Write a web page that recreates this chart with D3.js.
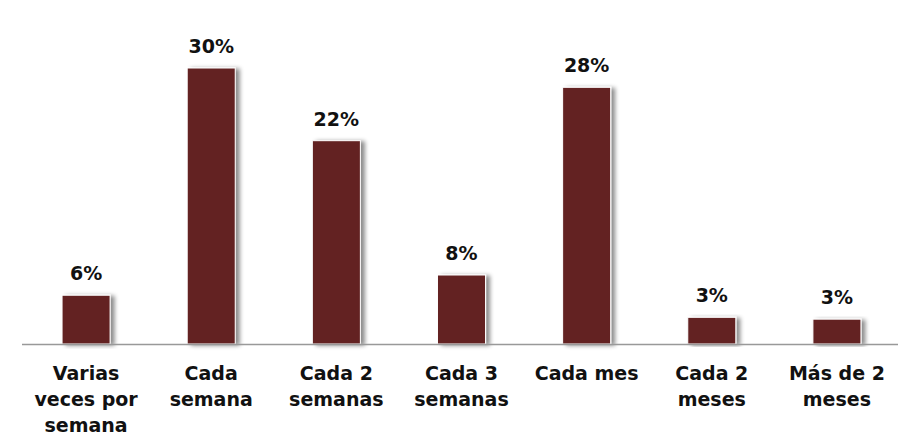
<!DOCTYPE html>
<html>
<head>
<meta charset="utf-8">
<script src="https://cdn.jsdelivr.net/npm/d3@7"></script>
<style>
  body { margin: 0; background: #fff; }
  text { font-family: "Century Gothic", "DejaVu Sans", sans-serif; font-weight: bold; fill: #111; }
</style>
</head>
<body>
<div id="chart"></div>
<script>
// Chart size matches the window
let w = 922;
let h = 448;
let axisLeft = 22;
let axisRight = 898;
let baseline = 344;
let topY = 68;

// Data
let categories = [
  ["Varias", "veces por", "semana"],
  ["Cada", "semana"],
  ["Cada 2", "semanas"],
  ["Cada 3", "semanas"],
  ["Cada mes"],
  ["Cada 2", "meses"],
  ["Más de 2", "meses"]
];
let values = [5.3, 30, 22.1, 7.5, 27.9, 2.9, 2.7];
let valueLabels = ["6%", "30%", "22%", "8%", "28%", "3%", "3%"];

let xScale = d3.scaleBand()
  .domain(d3.range(values.length))
  .range([axisLeft + 1.5, axisRight + 1.5])
  .paddingInner(0.616)
  .paddingOuter(0.308);

let yScale = d3.scaleLinear()
  .domain([0, 30])
  .range([baseline, topY]);

let svg = d3.select("#chart").append("svg")
  .attr("width", w)
  .attr("height", h);

// Soft grey shadow to the right of each bar
let filter = svg.append("defs").append("filter")
  .attr("id", "shadow")
  .attr("x", "-20%").attr("y", "-10%")
  .attr("width", "160%").attr("height", "120%");
filter.append("feDropShadow")
  .attr("dx", 4).attr("dy", 1)
  .attr("stdDeviation", 2.2)
  .attr("flood-color", "#000")
  .attr("flood-opacity", 0.45);

// Bars
svg.selectAll("rect.bar")
  .data(values)
  .enter()
  .append("rect")
  .classed("bar", true)
  .attr("x", (d, i) => xScale(i))
  .attr("y", d => yScale(d))
  .attr("width", xScale.bandwidth())
  .attr("height", d => baseline - yScale(d))
  .attr("fill", "#632424")
  .attr("stroke", "#fff")
  .attr("stroke-width", 1)
  .attr("filter", "url(#shadow)");

// Axis line
svg.append("line")
  .attr("x1", axisLeft)
  .attr("x2", axisRight)
  .attr("y1", baseline + 0.5)
  .attr("y2", baseline + 0.5)
  .attr("stroke", "#999")
  .attr("stroke-width", 1.5);

// Value labels
svg.selectAll("text.value")
  .data(values)
  .enter()
  .append("text")
  .classed("value", true)
  .attr("x", (d, i) => xScale(i) + xScale.bandwidth() / 2)
  .attr("y", d => yScale(d) - 15)
  .attr("text-anchor", "middle")
  .attr("font-size", "19px")
  .text((d, i) => valueLabels[i]);

// Category labels, one tspan per line
let catText = svg.selectAll("text.cat")
  .data(categories)
  .enter()
  .append("text")
  .classed("cat", true)
  .attr("text-anchor", "middle")
  .attr("font-size", "19px")
  .attr("y", 380);
catText.selectAll("tspan")
  .data((d, i) => d.map(line => ({ line: line, i: i })))
  .enter()
  .append("tspan")
  .attr("x", d => xScale(d.i) + xScale.bandwidth() / 2)
  .attr("dy", (d, j) => j === 0 ? 0 : 26)
  .text(d => d.line);
</script>
</body>
</html>
